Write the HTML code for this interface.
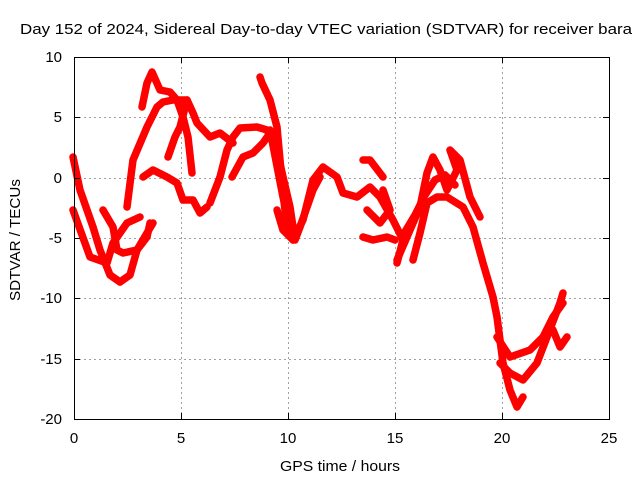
<!DOCTYPE html>
<html><head><style>
body{margin:0;background:#fff;}
svg{display:block;font-family:"Liberation Sans",sans-serif;}
</style></head><body>
<svg width="640" height="480" viewBox="0 0 640 480">
<rect width="640" height="480" fill="#fff"/>
<g stroke="#a0a0a0" stroke-width="1" stroke-dasharray="2,3">
<line x1="181.5" y1="57" x2="181.5" y2="419"/><line x1="288.5" y1="57" x2="288.5" y2="419"/>
<line x1="395.5" y1="57" x2="395.5" y2="419"/><line x1="502.5" y1="57" x2="502.5" y2="419"/>
<line x1="74" y1="117.5" x2="609" y2="117.5"/><line x1="74" y1="178.5" x2="609" y2="178.5"/>
<line x1="74" y1="238.5" x2="609" y2="238.5"/><line x1="74" y1="298.5" x2="609" y2="298.5"/>
<line x1="74" y1="359.5" x2="609" y2="359.5"/>
</g>
<g fill="none" stroke="#ff0000" stroke-width="7.5" stroke-linejoin="round" stroke-linecap="round">
<polyline points="73,157 80,190 93,227 100,250 110,275 120,282 130,275 137,250 147,233 153,223"/>
<polyline points="73,210 90,257 107,263 113,243 127,223 140,217"/>
<polyline points="103,210 113,227 117,250 123,253 137,250 147,237 150,223"/>
<polyline points="127,207 133,160 147,127 157,107 163,102 173,100 187,100 193,113 197,123 210,137 220,133 233,143"/>
<polyline points="142,107 147,83 152,72 160,90 170,92 177,100 183,117 188,137 192,173"/>
<polyline points="168,157 175,137 180,127 187,100"/>
<polyline points="210,203 220,177 227,150 233,137 240,128 257,127 267,130 277,150 283,177 290,207 295,240 300,227 313,190 320,177"/>
<polyline points="232,177 243,157 253,153 263,143 270,133"/>
<polyline points="260,77 262,83 270,100 277,127 280,160 283,193 287,227 293,240"/>
<polyline points="143,177 153,170 167,177 177,183 183,200 193,200 200,213 207,207"/>
<polyline points="270,130 283,197 293,240 303,220 313,180 323,167 337,177 343,193 357,197 370,187 380,197 393,220 403,240 397,263"/>
<polyline points="277,210 283,230 293,240"/>
<polyline points="363,237 373,240 387,237 395,240"/>
<polyline points="363,160 370,160 383,177"/>
<polyline points="367,210 380,223 390,210 383,190"/>
<polyline points="397,260 410,230 420,207 427,173 433,157 440,170 447,190 457,170 450,150 460,160 470,197 480,217"/>
<polyline points="413,260 420,233 427,203 437,197 447,197 463,207 473,227 483,263 493,297 497,317 503,363 510,390 517,407 523,397"/>
<polyline points="500,363 510,373 523,380 537,363 547,337 560,303 563,293"/>
<polyline points="497,337 510,357 530,350 543,337 553,317 563,303"/>
<polyline points="553,330 560,347 567,337"/>
<polyline points="403,235 415,215 425,195 435,180 445,175 455,185"/>
</g>
<rect x="74.5" y="57.5" width="535" height="362" fill="none" stroke="#000" stroke-width="1"/>
<g stroke="#000" stroke-width="1">
<line x1="181.5" y1="419" x2="181.5" y2="413"/><line x1="288.5" y1="419" x2="288.5" y2="413"/>
<line x1="395.5" y1="419" x2="395.5" y2="413"/><line x1="502.5" y1="419" x2="502.5" y2="413"/>
<line x1="181.5" y1="57" x2="181.5" y2="63"/><line x1="288.5" y1="57" x2="288.5" y2="63"/>
<line x1="395.5" y1="57" x2="395.5" y2="63"/><line x1="502.5" y1="57" x2="502.5" y2="63"/>
<line x1="74" y1="117.5" x2="80" y2="117.5"/><line x1="74" y1="178.5" x2="80" y2="178.5"/>
<line x1="74" y1="238.5" x2="80" y2="238.5"/><line x1="74" y1="298.5" x2="80" y2="298.5"/><line x1="74" y1="359.5" x2="80" y2="359.5"/>
<line x1="609" y1="117.5" x2="603" y2="117.5"/><line x1="609" y1="178.5" x2="603" y2="178.5"/>
<line x1="609" y1="238.5" x2="603" y2="238.5"/><line x1="609" y1="298.5" x2="603" y2="298.5"/><line x1="609" y1="359.5" x2="603" y2="359.5"/>
</g>
<g font-size="15" fill="#000" text-anchor="end">
<text x="62" y="62">10</text><text x="62" y="122">5</text><text x="62" y="183">0</text>
<text x="62" y="243">-5</text><text x="62" y="303">-10</text><text x="62" y="364">-15</text><text x="62" y="424">-20</text>
</g>
<g font-size="15" fill="#000" text-anchor="middle">
<text x="74" y="443">0</text><text x="181" y="443">5</text><text x="288" y="443">10</text>
<text x="395" y="443">15</text><text x="502" y="443">20</text><text x="609" y="443">25</text>
<text x="340" y="471" textLength="120" lengthAdjust="spacingAndGlyphs">GPS time / hours</text>
<text x="326" y="34" textLength="612" lengthAdjust="spacingAndGlyphs">Day 152 of 2024, Sidereal Day-to-day VTEC variation (SDTVAR) for receiver bara</text>
<text transform="translate(20,240) rotate(-90)" textLength="122" lengthAdjust="spacingAndGlyphs">SDTVAR / TECUs</text>
</g>
</svg>
</body></html>
